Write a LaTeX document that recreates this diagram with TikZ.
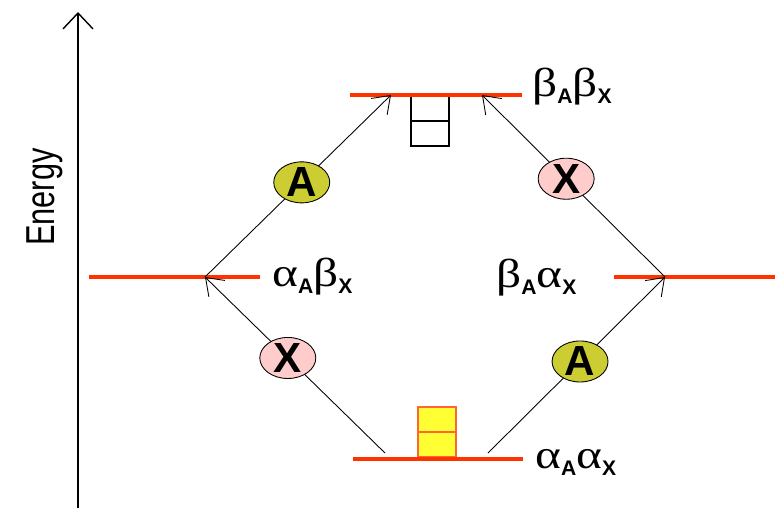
\documentclass[tikz,border=0pt]{standalone}
\usepackage{fontspec}
\setmainfont{Liberation Sans}
\newfontfamily\greekfont{Liberation Serif}
\usetikzlibrary{arrows.meta,shapes.geometric}
\definecolor{levelred}{RGB}{255,51,0}
\definecolor{olivefill}{RGB}{204,204,51}
\definecolor{pinkfill}{RGB}{255,204,204}
\definecolor{boxyellow}{RGB}{255,255,51}
\definecolor{boxedge}{RGB}{255,102,51}
% spin state label: greek letter with bold sans subscript
\newcommand{\spinpart}[2]{\scalebox{1.22}[1]{\greekfont\fontsize{23}{23}\selectfont #1}\raisebox{-4pt}{\fontsize{12}{12}\selectfont\bfseries #2}}
\begin{document}
\begin{tikzpicture}[x=0.02cm,y=-0.02cm,
    level/.style={levelred,line width=2.8pt},
    trans/.style={black,line width=0.5pt,-{Straight Barb[length=9pt,width=13pt]}},
    spinbox/.style={line width=0.8pt},
    nucleus/.style={ellipse,draw,line width=0.5pt,minimum width=1.12cm,minimum height=0.8cm,inner sep=0pt,font=\fontsize{24}{24}\selectfont\bfseries},
    statelabel/.style={anchor=base west,inner sep=0pt}]
    \useasboundingbox (0,0) rectangle (775,508);
    % Define dimensions
    \def\boxw{38}
    \def\boxh{25}
    % Energy axis
    \draw[line width=0.8pt,-{Straight Barb[length=9pt,width=17pt]}] (78,508) -- (78,12);
    \node[rotate=90] (energy) at (45,197) {\scalebox{0.76}[1]{\fontsize{23}{23}\selectfont Energy}};
    % Population boxes
    \draw[spinbox] (411,96) rectangle ++(\boxw,2*\boxh);
    \draw[spinbox] (411,96+\boxh) -- ++(\boxw,0);
    \draw[spinbox,draw=boxedge,fill=boxyellow] (418,457) rectangle ++(\boxw,-2*\boxh);
    \draw[spinbox,draw=boxedge] (418,457-\boxh) -- ++(\boxw,0);
    % Energy levels
    \draw[level] (350,95) -- (522,95);
    \draw[level] (89,277) -- (260,277);
    \draw[level] (614,277) -- (775,277);
    \draw[level] (353,459) -- (523,459);
    % Transition end points
    \coordinate (bl) at (385,453);
    \coordinate (br) at (488,453);
    \coordinate (ml) at (205,277);
    \coordinate (mr) at (665,277);
    \coordinate (tl) at (391,95);
    \coordinate (tr) at (482,95);
    % Transitions
    \draw[trans] (bl) -- node[nucleus,fill=pinkfill,pos=0.54] (xlow) {X} (ml);
    \draw[trans] (ml) -- node[nucleus,fill=olivefill,pos=0.52] (aup) {A} (tl);
    \draw[trans] (mr) -- node[nucleus,fill=pinkfill,pos=0.54] (xup) {X} (tr);
    \draw[trans] (br) -- node[nucleus,fill=olivefill,pos=0.52] (alow) {A} (mr);
    % State labels
    \node[statelabel] (bb) at (532,96) {\spinpart{β}{A}\spinpart{β}{X}};
    \node[statelabel] (ab) at (272,286) {\spinpart{α}{A}\spinpart{β}{X}};
    \node[statelabel] (ba) at (496,287) {\spinpart{β}{A}\spinpart{α}{X}};
    \node[statelabel] (aa) at (535,468) {\spinpart{α}{A}\spinpart{α}{X}};
\end{tikzpicture}
\end{document}
